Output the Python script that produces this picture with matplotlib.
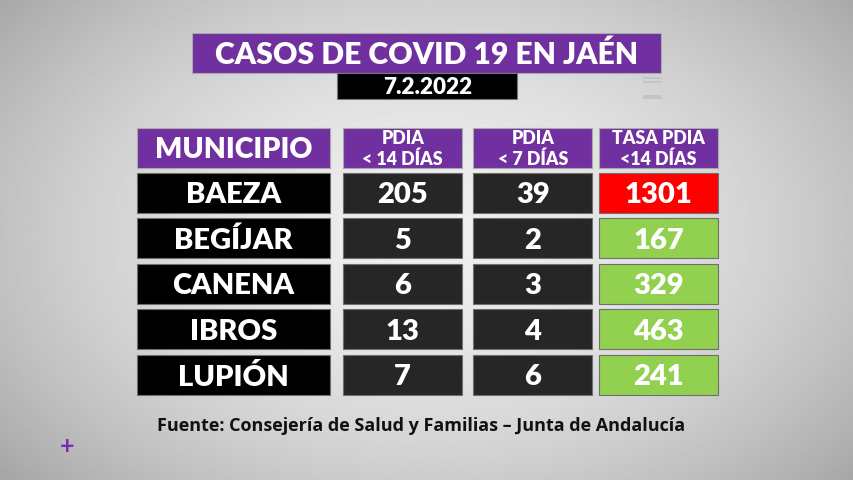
import numpy as np
import matplotlib
matplotlib.use("Agg")
import matplotlib.pyplot as plt
from matplotlib.patches import Rectangle

title = "CASOS DE COVID 19 EN JAÉN"
date_label = "7.2.2022"
source = "Fuente: Consejería de Salud y Familias – Junta de Andalucía"
municipios = ["BAEZA", "BEGÍJAR", "CANENA", "IBROS", "LUPIÓN"]
pdia_14 = [205, 5, 6, 13, 7]
pdia_7 = [39, 2, 3, 4, 6]
tasa_14 = [1301, 167, 329, 463, 241]
headers = ["MUNICIPIO", "PDIA\n< 14 DÍAS", "PDIA\n< 7 DÍAS", "TASA PDIA\n<14 DÍAS"]

PURPLE = "#7030A0"
GREEN = "#92D050"
RED = "#FF0000"
DARK = "#262626"
BLACK = "#000000"
plt.rcParams["font.family"] = "Lato"

col_x = [(137, 330), (343, 462), (473, 592), (598.5, 717.5)]
row_y = [173, 218.5, 264, 309.5, 355]
row_h = 40

fig = plt.figure(figsize=(8.535, 4.805), dpi=100)
ax = fig.add_axes([0, 0, 1, 1])
ax.set_xlim(0, 853)
ax.set_ylim(480, 0)
ax.axis("off")

# soft light-grey backdrop, brightest behind the table
yy, xx = np.mgrid[0:480, 0:853]
r = np.sqrt(((xx - 430) / 500.0) ** 2 + ((yy - 235) / 330.0) ** 2)
shade = np.clip(238 - 58 * r ** 1.8, 150, 240) / 255.0
ax.imshow(shade, cmap="gray", vmin=0, vmax=1, extent=(0, 853, 480, 0), aspect="auto", zorder=0)


def box(x0, x1, y0, y1, color, edge="#8a8a8a"):
    ax.add_patch(Rectangle((x0, y0), x1 - x0, y1 - y0, facecolor=color,
                           edgecolor=edge, linewidth=0.8, zorder=2))


def label(x, y, s, size, color="white", weight="bold", family="Lato", **kw):
    ax.text(x, y, s, fontsize=size, color=color, fontweight=weight, family=family, ha="center",
            va="center", zorder=3, **kw)


# faint artefacts right of the date bar
for y0, y1 in [(77, 79), (81, 83), (95, 99)]:
    ax.add_patch(Rectangle((643, y0), 19, y1 - y0, facecolor="#c4c4c4", edgecolor="none", zorder=1))

box(192, 661, 33, 73, PURPLE, "#a9a9a9")
label(426.5, 54.5, title, 21.7, weight="black")
box(337, 517, 73, 99, BLACK, "#777777")
label(427, 87.5, date_label, 16.2, weight="black")

for i, (h, (x0, x1)) in enumerate(zip(headers, col_x)):
    box(x0, x1, 128, 168, PURPLE, "#a9a9a9")
    cx = (x0 + x1) / 2
    if i == 0:
        label(cx, 149.5, h, 20.5, weight="black")
    else:
        first, second = h.split("\n")
        label(cx, 138.5, first, 12.8, weight="black")
        label(cx, 159.5, second, 12.8, weight="black")

for i, y0 in enumerate(row_y):
    tasa = tasa_14[i]
    cells = [(municipios[i], BLACK), (pdia_14[i], DARK), (pdia_7[i], DARK),
             (tasa, RED if tasa >= 1000 else GREEN)]
    for (val, color), (x0, x1) in zip(cells, col_x):
        box(x0, x1, y0, y0 + row_h, color, "#6f6f6f")
        label((x0 + x1) / 2, y0 + 22, str(val), 21, weight="black")

label(420.5, 426, source, 12.95, color="#111111", weight="bold", family="Open Sans")
label(67.5, 446, "+", 18, color="#7B2FB0")

fig.savefig("out.png", dpi=100)
